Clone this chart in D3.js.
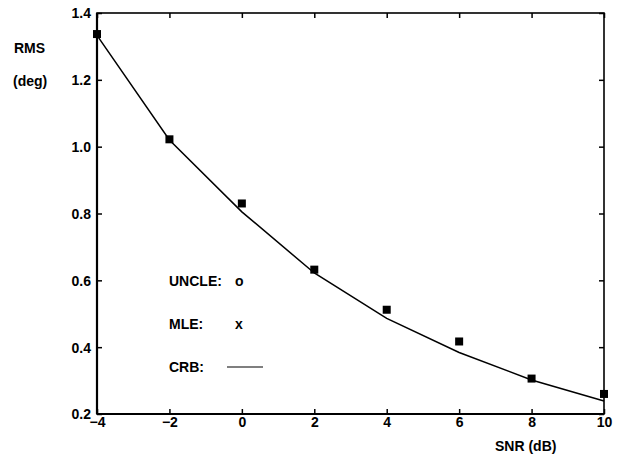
<!DOCTYPE html>
<html><head><meta charset="utf-8">
<script src="https://cdn.jsdelivr.net/npm/d3@7"></script>
<style>
body{margin:0;background:#fff;}
text{font-family:"Liberation Sans",Arial,Helvetica,sans-serif;font-weight:bold;fill:#000;}
</style></head>
<body><svg id="c" width="619" height="466"></svg>
<script>
const snr = [-4, -2, 0, 2, 4, 6, 8, 10];
const measured = [1.337, 1.022, 0.830, 0.632, 0.512, 0.417, 0.306, 0.260];
const crb = [1.333, 1.020, 0.805, 0.622, 0.486, 0.384, 0.302, 0.239];
const xTicks = [-4, -2, 0, 2, 4, 6, 8, 10];
const yTicks = [0.2, 0.4, 0.6, 0.8, 1.0, 1.2, 1.4];
const legendLabels = ["UNCLE:", "MLE:", "CRB:"];
const legendSymbols = ["o", "x", ""];

const svg = d3.select("#c");
const L = 97, R = 604, T = 13, B = 414;
const FS = "14px";
const x = d3.scaleLinear().domain([-4, 10]).range([L, R]);
const y = d3.scaleLinear().domain([0.2, 1.4]).range([B, T]);

const fmtY = d3.format(".1f");
const fmtX = d3.format("d");

function styleAxis(g, showText){
  g.select(".domain").remove();
  g.selectAll("line").attr("stroke", "#000").attr("stroke-width", 1.5);
  g.selectAll("text").style("font-size", FS).attr("fill", "#000");
  if(!showText) g.selectAll("text").remove();
}

// left axis
svg.append("g").attr("transform", `translate(${L},0)`)
  .call(d3.axisLeft(y).tickValues(yTicks).tickFormat(fmtY).tickSizeInner(-5).tickSizeOuter(0).tickPadding(6))
  .call(g => styleAxis(g, true))
  .call(g => g.selectAll("text").attr("dy", "0.35em"));
// right axis
svg.append("g").attr("transform", `translate(${R},0)`)
  .call(d3.axisRight(y).tickValues(yTicks).tickSizeInner(-5).tickSizeOuter(0))
  .call(g => styleAxis(g, false));
// bottom axis
svg.append("g").attr("transform", `translate(0,${B})`)
  .call(d3.axisBottom(x).tickValues(xTicks).tickFormat(fmtX).tickSizeInner(-5).tickSizeOuter(0).tickPadding(3))
  .call(g => styleAxis(g, true))
  .call(g => g.selectAll("text").attr("dy", "0.71em"));
// top axis
svg.append("g").attr("transform", `translate(0,${T})`)
  .call(d3.axisTop(x).tickValues(xTicks).tickSizeInner(-5).tickSizeOuter(0))
  .call(g => styleAxis(g, false));

// frame
svg.append("rect").attr("x", L).attr("y", T).attr("width", R - L).attr("height", B - T)
  .attr("fill", "none").attr("stroke", "#000").attr("stroke-width", 1.6);
svg.append("line").attr("x1", L).attr("x2", L).attr("y1", T).attr("y2", B)
  .attr("stroke", "#000").attr("stroke-width", 2.2);
svg.append("line").attr("x1", L).attr("x2", R).attr("y1", B).attr("y2", B)
  .attr("stroke", "#000").attr("stroke-width", 2.2);

// CRB line
const line = d3.line().x(d => x(d[0])).y(d => y(d[1]));
svg.append("path").datum(snr.map((s, i) => [s, crb[i]]))
  .attr("d", line).attr("fill", "none").attr("stroke", "#000").attr("stroke-width", 1.5);

// markers
svg.selectAll("rect.m").data(snr.map((s, i) => [s, measured[i]])).enter()
  .append("rect").attr("class", "m")
  .attr("x", d => x(d[0]) - 4).attr("y", d => y(d[1]) - 4)
  .attr("width", 8).attr("height", 8).attr("fill", "#000");

// axis titles
svg.append("text").attr("x", 14).attr("y", 53).style("font-size", FS).text("RMS");
svg.append("text").attr("x", 13).attr("y", 86).style("font-size", FS).text("(deg)");
svg.append("text").attr("x", 495).attr("y", 451).style("font-size", FS).text("SNR (dB)");

// legend
const ly = [286, 329, 372];
legendLabels.forEach((lab, i) => {
  svg.append("text").attr("x", 169).attr("y", ly[i]).style("font-size", FS).text(lab);
});
svg.append("text").attr("x", 235).attr("y", ly[0]).style("font-size", FS).text(legendSymbols[0]);
svg.append("text").attr("x", 235).attr("y", ly[1]).style("font-size", FS).text(legendSymbols[1]);
svg.append("line").attr("x1", 227).attr("x2", 263).attr("y1", 367).attr("y2", 367)
  .attr("stroke", "#000").attr("stroke-width", 1.2);
</script></body></html>
